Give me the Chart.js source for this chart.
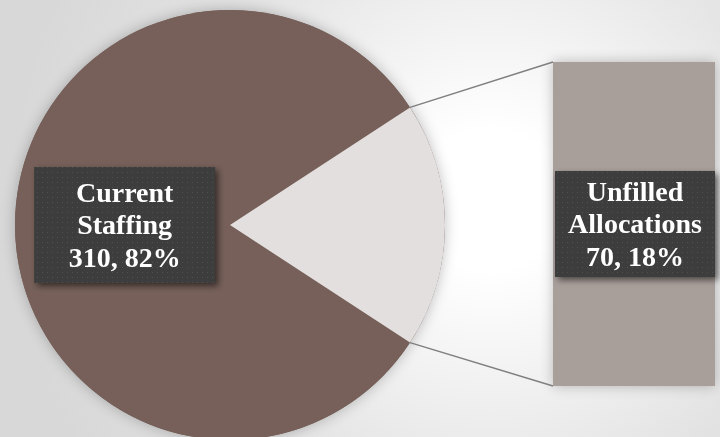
<!DOCTYPE html>
<html>
<head>
<meta charset="utf-8">
<script src="https://cdn.jsdelivr.net/npm/chart.js@4.4.1/dist/chart.umd.min.js"></script>
<style>
  html, body { margin: 0; padding: 0; }
  body {
    width: 720px; height: 437px; overflow: hidden; position: relative;
    background: radial-gradient(circle at 490px 200px, #ffffff 0px, #ffffff 70px, #f3f3f3 170px, #e2e2e2 320px, #d8d8d8 480px);
  }
  #pie { position: absolute; left: 0; top: 0; }
  #bar { position: absolute; left: 540px; top: 50px; }
</style>
</head>
<body>
<canvas id="bar" width="190" height="350"></canvas>
<canvas id="pie" width="720" height="440"></canvas>
<script>
// ---- data ----
const categories = ['Current Staffing', 'Unfilled Allocations'];
const values = [310, 70];
const percentLabels = ['82%', '18%'];
const barCategories = ['Unfilled Allocations'];
const barValues = [70];

const total = values.reduce((a, b) => a + b, 0);
const FONT = 'bold 28px "Liberation Serif", "DejaVu Serif", serif';

// dotted pattern for label boxes
function makePattern(ctx) {
  const c = document.createElement('canvas');
  c.width = 5; c.height = 5;
  const p = c.getContext('2d');
  p.fillStyle = '#3d3d3d'; p.fillRect(0, 0, 5, 5);
  p.fillStyle = '#505050'; p.fillRect(2, 2, 1, 1);
  return ctx.createPattern(c, 'repeat');
}

function drawLabel(ctx, cx, cy, w, h, lines) {
  ctx.save();
  ctx.shadowColor = 'rgba(0,0,0,0.55)';
  ctx.shadowBlur = 6;
  ctx.shadowOffsetX = 3;
  ctx.shadowOffsetY = 3;
  ctx.fillStyle = makePattern(ctx);
  ctx.fillRect(cx - w / 2, cy - h / 2, w, h);
  ctx.restore();
  ctx.save();
  ctx.font = FONT;
  ctx.fillStyle = '#ffffff';
  ctx.textAlign = 'center';
  ctx.textBaseline = 'middle';
  const lh = 32.5;
  const start = cy - (lines.length - 1) * lh / 2 + 2;
  lines.forEach((t, i) => ctx.fillText(t, cx, start + i * lh));
  ctx.restore();
}

// ---- secondary bar ----
const barShadow = {
  id: 'barShadow',
  beforeDatasetsDraw(chart) {
    const el = chart.getDatasetMeta(0).data[0];
    const ctx = chart.ctx;
    ctx.save();
    ctx.shadowColor = 'rgba(0,0,0,0.25)';
    ctx.shadowBlur = 12;
    ctx.fillStyle = '#a89e9a';
    ctx.fillRect(el.x - el.width / 2, el.y, el.width, el.base - el.y);
    ctx.restore();
  },
  afterDatasetsDraw(chart) {
    const el = chart.getDatasetMeta(0).data[0];
    const cx = el.x + 1;
    const cy = (el.y + el.base) / 2;
    drawLabel(chart.ctx, cx, cy, 160, 106,
      ['Unfilled', 'Allocations', barValues[0] + ', ' + percentLabels[1]]);
  }
};

const barChart = new Chart(document.getElementById('bar'), {
  type: 'bar',
  data: {
    labels: barCategories,
    datasets: [{ data: barValues, backgroundColor: '#a89e9a', borderWidth: 0,
      barPercentage: 1, categoryPercentage: 1 }]
  },
  options: {
    responsive: false, animation: false,
    layout: { padding: { left: 13, right: 15, top: 12, bottom: 14 } },
    plugins: { legend: { display: false }, tooltip: { enabled: false } },
    scales: {
      x: { display: false },
      y: { display: false, min: 0, max: barValues[0] }
    }
  },
  plugins: [barShadow]
});

// ---- pie ----
const pieExtras = {
  id: 'pieExtras',
  beforeDatasetsDraw(chart) {
    const arc = chart.getDatasetMeta(0).data[0];
    const ctx = chart.ctx;
    ctx.save();
    ctx.shadowColor = 'rgba(0,0,0,0.25)';
    ctx.shadowBlur = 14;
    ctx.fillStyle = '#766059';
    ctx.beginPath();
    ctx.arc(arc.x, arc.y, arc.outerRadius, 0, Math.PI * 2);
    ctx.fill();
    ctx.restore();
  },
  afterDatasetsDraw(chart) {
    const ctx = chart.ctx;
    const meta = chart.getDatasetMeta(0);
    const a0 = meta.data[0];
    const a1 = meta.data[1];
    // connector lines
    const bEl = barChart.getDatasetMeta(0).data[0];
    const offX = 540, offY = 50;
    const bl = offX + bEl.x - bEl.width / 2;
    const bt = offY + bEl.y;
    const bb = offY + bEl.base;
    const r = a1.outerRadius;
    const p1 = [a1.x + r * Math.cos(a1.startAngle), a1.y + r * Math.sin(a1.startAngle)];
    const p2 = [a1.x + r * Math.cos(a1.endAngle), a1.y + r * Math.sin(a1.endAngle)];
    ctx.save();
    ctx.strokeStyle = '#7f7f7f';
    ctx.lineWidth = 1.5;
    ctx.beginPath();
    ctx.moveTo(p1[0], p1[1]); ctx.lineTo(bl, bt);
    ctx.moveTo(p2[0], p2[1]); ctx.lineTo(bl, bb);
    ctx.stroke();
    ctx.restore();
    // main label
    const mid = (a0.startAngle + a0.endAngle) / 2;
    const d = a0.outerRadius * 0.49;
    drawLabel(ctx, a0.x + d * Math.cos(mid), a0.y + d * Math.sin(mid), 181, 116,
      ['Current', 'Staffing', values[0] + ', ' + percentLabels[0]]);
  }
};

new Chart(document.getElementById('pie'), {
  type: 'pie',
  data: {
    labels: categories,
    datasets: [{ data: values, backgroundColor: ['#766059', '#e3dfde'], borderWidth: 0 }]
  },
  options: {
    responsive: false, animation: false,
    rotation: 90 + (values[1] / total) * 180,
    layout: { padding: { left: 15, right: 275, top: 10, bottom: 0 } },
    plugins: { legend: { display: false }, tooltip: { enabled: false } }
  },
  plugins: [pieExtras]
});
</script>
</body>
</html>
